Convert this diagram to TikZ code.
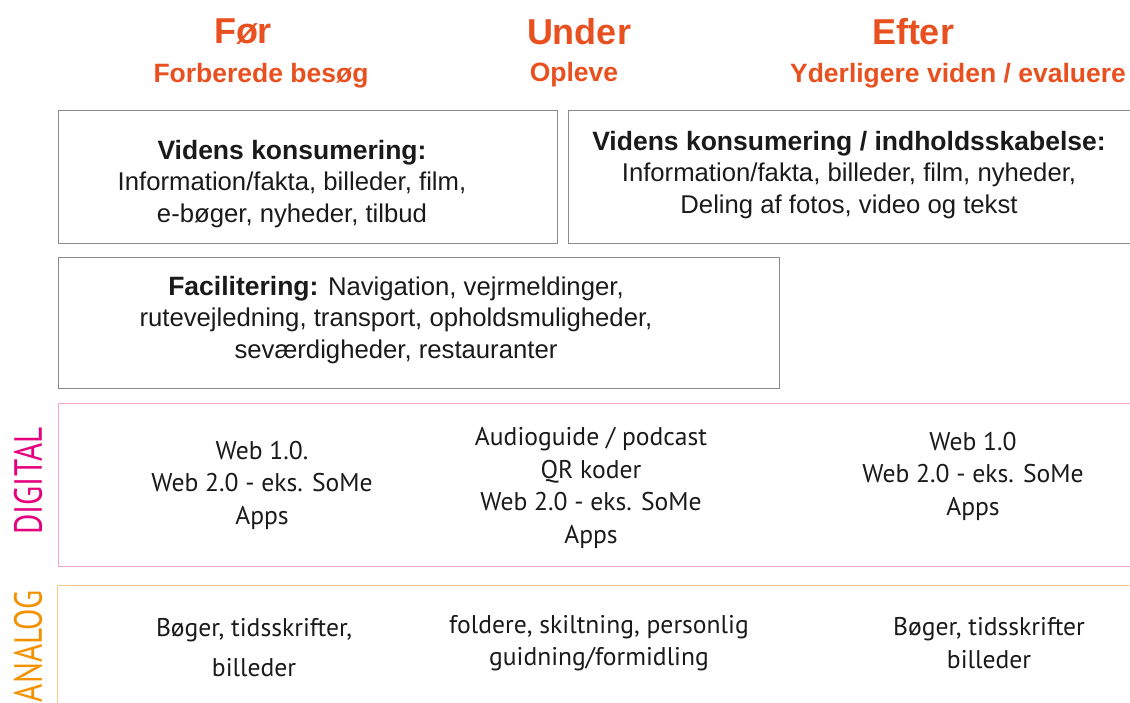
\documentclass[tikz,border=0pt]{standalone}
\usepackage{fontspec}
\setmainfont{Liberation Sans}
\newfontfamily\myr{PT Sans}
\definecolor{hdr}{HTML}{E9501F}
\definecolor{boxgray}{HTML}{8A8A8A}
\definecolor{digpink}{HTML}{E5007D}
\definecolor{digline}{HTML}{F4A6CD}
\definecolor{anaorange}{HTML}{F39200}
\definecolor{analine}{HTML}{F8C98A}
\definecolor{txt}{HTML}{1A1A1A}
\newcommand{\bx}[1]{{\fontsize{26.5}{31.5}\selectfont\bfseries #1}}
\tikzset{
  phase/.style={text=hdr,font=\bfseries\fontsize{36}{40}\selectfont,inner sep=0pt},
  subphase/.style={text=hdr,font=\bfseries\fontsize{26.5}{30}\selectfont,inner sep=0pt},
  boxline/.style={draw=boxgray,line width=0.9pt},
  arial/.style={text=txt,align=center,inner sep=0pt,font=\fontsize{25.7}{31.8}\selectfont},
  myriad/.style={text=txt,align=center,inner sep=0pt,font=\myr\fontsize{25.6}{32.5}\selectfont},
}
\begin{document}
\begin{tikzpicture}[x=1pt,y=-1pt]
\useasboundingbox (0,0) rectangle (1130,702);
% headers
\node[phase] (for) at (243,32) {Før};
\node[phase] (under) at (579,32) {Under};
\node[phase] (efter) at (913,32) {Efter};
\node[subphase] (forb) at (261,76) {Forberede besøg};
\node[subphase] (opl) at (574,75) {Opleve};
\node[subphase] (yder) at (958,76) {Yderligere viden / evaluere};
% boxes
\draw[boxline] (58,110) rectangle (557,243);
\draw[boxline] (1131,110) -- (568,110) -- (568,243) -- (1131,243);
\draw[boxline] (58,257) rectangle (779,388);
\draw[draw=digline,line width=1pt] (1131,403) -- (58,403) -- (58,566) -- (1131,566);
\draw[draw=analine,line width=1pt] (1131,585) -- (57,585) -- (57,703);
% box texts
\node[arial] (vk1) at (292,184) {\bx{Videns konsumering:}\\Information/fakta, billeder, film,\\e-bøger, nyheder, tilbud};
\node[arial] (vk2) at (849,175) {\bx{Videns konsumering / indholdsskabelse:}\\Information/fakta, billeder, film, nyheder,\\Deling af fotos, video og tekst};
\node[arial] (fac) at (396,320) {\bx{Facilitering:} Navigation, vejrmeldinger,\\rutevejledning, transport, opholdsmuligheder,\\seværdigheder, restauranter};
% digital
\node[myriad] (d1) at (262,485) {Web 1.0.\\Web 2.0 - eks. SoMe\\Apps};
\node[myriad] (d2) at (591,488) {Audioguide / podcast\\QR koder\\Web 2.0 - eks. SoMe\\Apps};
\node[myriad] (d3) at (973,476) {Web 1.0\\Web 2.0 - eks. SoMe\\Apps};
% analog
\node[myriad,font=\myr\fontsize{25.6}{40}\selectfont] (a1) at (254,648) {Bøger, tidsskrifter,\\billeder};
\node[myriad] (a2) at (599,643) {foldere, skiltning, personlig\\guidning/formidling};
\node[myriad] (a3) at (989,643) {Bøger, tidsskrifter\\billeder};
% side labels
\node[rotate=90,inner sep=0pt,text=digpink] (dig) at (28,481) {\resizebox{107pt}{28pt}{\myr DIGITAL}};
\node[rotate=90,inner sep=0pt,text=anaorange] (ana) at (28,646) {\resizebox{112pt}{28pt}{\myr ANALOG}};
\end{tikzpicture}
\end{document}
